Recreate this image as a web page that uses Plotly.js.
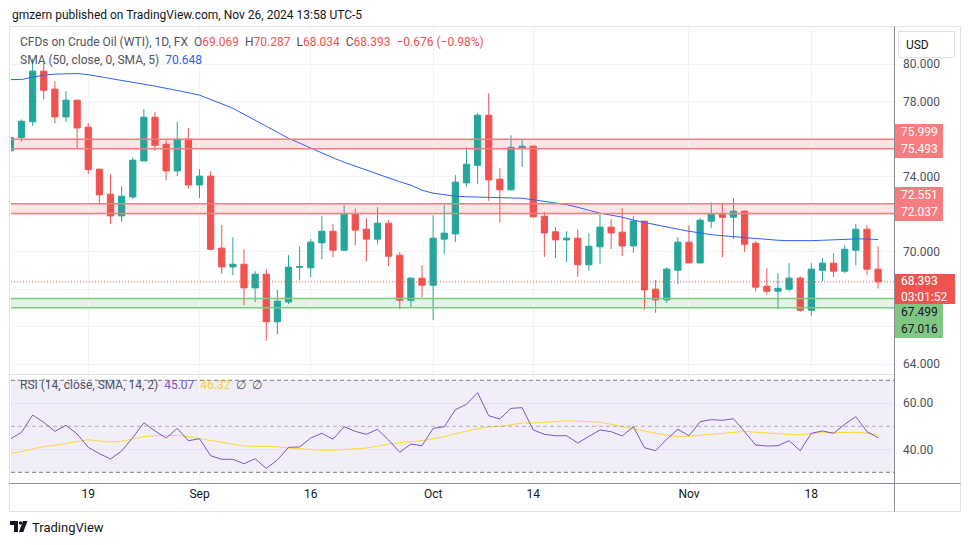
<!DOCTYPE html>
<html>
<head>
<meta charset="utf-8">
<script src="https://cdn.plot.ly/plotly-3.0.1.min.js"></script>
<style>
  html, body { margin: 0; padding: 0; background: #ffffff; }
  #grafico { width: 970px; height: 545px; }
</style>
</head>
<body>
<div id="grafico"></div>
<script>
// velas diarias (dias habiles)
let fechas = [
  '2024-08-08','2024-08-09','2024-08-12','2024-08-13','2024-08-14','2024-08-15','2024-08-16',
  '2024-08-19','2024-08-20','2024-08-21','2024-08-22','2024-08-23',
  '2024-08-26','2024-08-27','2024-08-28','2024-08-29','2024-08-30',
  '2024-09-02','2024-09-03','2024-09-04','2024-09-05','2024-09-06',
  '2024-09-09','2024-09-10','2024-09-11','2024-09-12','2024-09-13',
  '2024-09-16','2024-09-17','2024-09-18','2024-09-19','2024-09-20',
  '2024-09-23','2024-09-24','2024-09-25','2024-09-26','2024-09-27',
  '2024-09-30','2024-10-01','2024-10-02','2024-10-03','2024-10-04',
  '2024-10-07','2024-10-08','2024-10-09','2024-10-10','2024-10-11',
  '2024-10-14','2024-10-15','2024-10-16','2024-10-17','2024-10-18',
  '2024-10-21','2024-10-22','2024-10-23','2024-10-24','2024-10-25',
  '2024-10-28','2024-10-29','2024-10-30','2024-10-31','2024-11-01',
  '2024-11-04','2024-11-05','2024-11-06','2024-11-07','2024-11-08',
  '2024-11-11','2024-11-12','2024-11-13','2024-11-14','2024-11-15',
  '2024-11-18','2024-11-19','2024-11-20','2024-11-21','2024-11-22',
  '2024-11-25','2024-11-26'
];
let aperturas = [
  75.38, 76.09, 76.93, 79.63, 78.67, 77.19, 78.08,
  76.64, 74.40, 73.07, 71.91, 72.92,
  74.84, 77.17, 75.73, 74.31, 76.00,
  73.56, 74.03, 70.19, 69.19, 69.33,
  68.07, 68.80, 66.26, 67.32, 69.17,
  69.14, 70.47, 71.09, 70.08, 72.00,
  71.20, 70.67, 71.52, 69.81, 67.41,
  68.59, 68.21, 70.67, 70.95, 73.67,
  74.61, 77.28, 73.87, 73.30, 75.54,
  75.63, 71.89, 71.06, 70.63, 70.72,
  69.30, 70.26, 71.31, 71.04, 70.31,
  71.63, 68.00, 67.43, 69.01, 70.51,
  69.40, 71.63, 72.00, 71.84, 72.16,
  70.45, 68.16, 67.89, 68.00, 68.59,
  66.88, 69.01, 69.39, 68.96, 70.08,
  71.20, 69.069
];
let maximos = [
  76.48, 77.05, 80.30, 80.09, 79.09, 78.56, 78.10,
  76.85, 74.42, 74.13, 73.49, 75.02,
  77.60, 77.46, 75.98, 76.92, 76.59,
  74.40, 74.29, 71.43, 70.77, 70.13,
  68.96, 69.07, 67.95, 69.81, 70.29,
  70.67, 71.89, 71.47, 72.48, 72.30,
  71.79, 72.37, 71.68, 69.97, 68.62,
  69.28, 71.95, 72.48, 74.08, 75.57,
  77.39, 78.45, 74.45, 76.21, 76.00,
  75.65, 72.11, 71.31, 71.09, 71.20,
  70.99, 71.98, 71.73, 72.32, 71.89,
  71.65, 68.50, 69.17, 70.77, 71.41,
  71.79, 72.64, 72.59, 72.85, 72.21,
  70.56, 69.12, 68.85, 69.39, 68.69,
  69.39, 69.65, 69.92, 70.35, 71.47,
  71.41, 70.287
];
let minimos = [
  74.56, 75.86, 76.71, 78.13, 76.84, 76.92, 75.54,
  74.15, 72.53, 71.48, 71.59, 72.82,
  74.84, 75.38, 73.81, 74.04, 73.35,
  72.87, 70.08, 68.82, 68.75, 67.15,
  67.31, 65.24, 65.60, 67.20, 68.48,
  68.64, 69.60, 69.71, 70.05, 70.35,
  69.49, 70.40, 69.23, 66.93, 67.04,
  67.57, 66.35, 69.87, 70.52, 73.46,
  73.62, 72.71, 71.54, 73.28, 74.52,
  71.80, 69.72, 69.67, 69.46, 68.66,
  68.98, 69.35, 70.13, 69.78, 69.94,
  66.90, 66.74, 67.27, 68.28, 69.38,
  69.38, 71.25, 69.71, 70.67, 69.97,
  67.89, 67.73, 66.93, 67.89, 66.77,
  66.56, 68.43, 68.64, 68.85, 69.28,
  68.75, 68.034
];
let cierres = [
  76.09, 76.96, 79.63, 78.61, 77.19, 78.08, 76.60,
  74.38, 73.03, 71.91, 72.96, 74.88,
  77.17, 75.68, 74.31, 76.00, 73.56,
  74.03, 70.13, 69.19, 69.33, 68.07,
  68.80, 66.26, 67.36, 69.17, 69.20,
  70.51, 71.09, 70.08, 72.00, 71.15,
  70.67, 71.52, 69.76, 67.41, 68.59,
  68.21, 70.72, 70.99, 73.71, 74.67,
  77.28, 73.83, 73.30, 75.57, 75.63,
  71.86, 71.00, 70.63, 70.72, 69.30,
  70.29, 71.31, 71.00, 70.31, 71.63,
  67.96, 67.43, 69.07, 70.51, 69.40,
  71.68, 72.00, 71.84, 72.16, 70.40,
  68.11, 67.89, 68.05, 68.59, 66.88,
  69.07, 69.39, 68.96, 70.13, 71.20,
  69.069, 68.393
];
// SMA 50
let sma50 = [
  79.18, 79.18, 79.31, 79.41, 79.47, 79.49, 79.50,
  79.44, 79.33, 79.25, 79.15, 79.04,
  78.93, 78.83, 78.72, 78.61, 78.48,
  78.35, 78.13, 77.89, 77.65, 77.33,
  77.01, 76.69, 76.37, 76.05, 75.79,
  75.52, 75.25, 75.01, 74.77, 74.56,
  74.35, 74.13, 73.92, 73.73, 73.55,
  73.28, 73.12, 73.04, 72.96, 72.93,
  72.92, 72.91, 72.88, 72.86, 72.85,
  72.77, 72.69, 72.61, 72.51, 72.37,
  72.21, 72.05, 71.95, 71.84, 71.68,
  71.55, 71.44, 71.31, 71.20, 71.09,
  70.99, 70.91, 70.85, 70.80, 70.77,
  70.72, 70.67, 70.61, 70.59, 70.58,
  70.59, 70.61, 70.64, 70.67, 70.68,
  70.68, 70.648
];
let rsi = [
  44.48, 47.39, 54.90, 51.70, 47.80, 50.40, 46.65,
  40.87, 38.10, 35.80, 39.26, 45.04,
  51.57, 47.96, 44.90, 49.10, 43.74,
  44.60, 37.20, 35.65, 35.65, 33.75,
  35.90, 31.70, 35.35, 40.87, 41.00,
  44.90, 46.96, 44.35, 49.83, 47.80,
  46.50, 48.70, 44.04, 38.70, 42.30,
  41.57, 49.10, 49.83, 57.20, 59.57,
  64.60, 54.60, 53.17, 57.80, 58.10,
  48.40, 46.50, 45.90, 45.90, 42.74,
  45.60, 48.40, 47.65, 45.80, 49.83,
  40.70, 39.40, 44.35, 48.70, 45.90,
  52.00, 52.90, 52.60, 53.30, 47.65,
  41.87, 41.43, 41.57, 43.74, 39.40,
  46.96, 47.96, 46.96, 50.87, 54.17,
  47.65, 45.07
];
let rsiMedia = [
  38.26, 38.96, 40.13, 41.13, 41.74, 42.60, 43.48,
  44.17, 43.60, 43.17, 43.48, 44.35,
  45.50, 45.90, 46.00, 46.05, 45.50,
  44.78, 44.04, 43.04, 42.17, 41.43,
  41.30, 41.13, 41.13, 40.57, 40.13,
  39.70, 39.55, 39.55, 39.90, 40.00,
  40.57, 41.30, 42.30, 42.90, 43.30,
  43.74, 44.60, 45.50, 46.80, 47.96,
  48.96, 49.70, 50.00, 50.70, 51.43,
  51.43, 51.70, 52.17, 52.40, 52.30,
  52.00, 51.70, 50.87, 49.83, 48.96,
  47.96, 46.96, 46.09, 45.65, 45.65,
  46.09, 46.50, 46.96, 47.50, 47.80,
  47.40, 47.10, 46.80, 46.50, 46.20,
  46.80, 47.20, 47.20, 47.40, 47.40,
  46.96, 46.32
];
// zonas horizontales
let zonasBajo = [75.493, 72.037, 67.016];
let zonasAlto = [75.999, 72.551, 67.499];
// ejes (las etiquetas vacias quedan tapadas por las marcas de precio)
let precioTicks = [64, 66, 68, 70, 72, 74, 76, 78, 80];
let precioEtiquetas = ['64.000', '', '', '70.000', '', '74.000', '', '78.000', '80.000'];
let rsiTicks = [40, 60];
let rsiEtiquetas = ['40.00', '60.00'];
let rsiNiveles = [70, 50, 30];
let fechaTicks = ['2024-08-19','2024-09-02','2024-09-16','2024-10-01','2024-10-14','2024-11-01','2024-11-18'];
let fechaEtiquetas = ['19', 'Sep', '16', 'Oct', '14', 'Nov', '18'];

// pixel -> paper (area: x 11..894, y 27..483)
function px(x) { return (x - 11) / 883; }
function py(y) { return (483 - y) / 456; }

let verde = '#26a69a';
let rojo = '#ef5350';
let n = fechas.length;

let velas =
{
    x: fechas,
    open: aperturas,
    high: maximos,
    low: minimos,
    close: cierres,
    type: 'candlestick',
    xaxis: 'x',
    yaxis: 'y',
    increasing: {line: {color: verde, width: 1}, fillcolor: verde},
    decreasing: {line: {color: rojo, width: 1}, fillcolor: rojo},
    hoverinfo: 'skip'
}
let lineaSma =
{
    x: fechas,
    y: sma50,
    type: 'scatter',
    mode: 'lines',
    xaxis: 'x',
    yaxis: 'y',
    line: {color: '#2962ff', width: 1}
}
let lineaMedia =
{
    x: fechas,
    y: rsiMedia,
    type: 'scatter',
    mode: 'lines',
    xaxis: 'x',
    yaxis: 'y2',
    line: {color: '#fdd835', width: 1}
}
let lineaRsi =
{
    x: fechas,
    y: rsi,
    type: 'scatter',
    mode: 'lines',
    xaxis: 'x',
    yaxis: 'y2',
    line: {color: '#7e57c2', width: 1}
}

////////////////////////////////////////////////////////////////
let formas = [];
// fondo del RSI y niveles
formas.push({type: 'rect', xref: 'paper', yref: 'y2', x0: 0, x1: 1, y0: rsiNiveles[2], y1: rsiNiveles[0],
    fillcolor: 'rgba(126,87,194,0.1)', line: {width: 0}, layer: 'below'});
rsiNiveles.forEach(function(v, i) {
    formas.push({type: 'line', xref: 'paper', yref: 'y2', x0: 0, x1: 1, y0: v, y1: v,
        line: {color: i == 1 ? 'rgba(120,123,134,0.55)' : '#787b86', width: 1, dash: '4px,3px'}});
});
// zonas
let zonaColores = ['#f77c80', '#f77c80', '#81c784'];
let zonaRellenos = ['rgba(247,124,128,0.2)', 'rgba(247,124,128,0.2)', 'rgba(129,199,132,0.22)'];
for (let i = 0; i < zonasBajo.length; i++)
{
    formas.push({type: 'rect', xref: 'paper', yref: 'y', x0: 0, x1: 1, y0: zonasBajo[i], y1: zonasAlto[i],
        fillcolor: zonaRellenos[i], line: {width: 0}, layer: 'below'});
    [zonasBajo[i], zonasAlto[i]].forEach(function(v) {
        formas.push({type: 'line', xref: 'paper', yref: 'y', x0: 0, x1: 1, y0: v, y1: v,
            line: {color: zonaColores[i], width: 1.5}});
    });
}
// precio actual
formas.push({type: 'line', xref: 'paper', yref: 'y', x0: 0, x1: 1, y0: cierres[n - 1], y1: cierres[n - 1],
    line: {color: rojo, width: 1, dash: '1px,2px'}});
// marco, separadores y escala
formas.push({type: 'rect', xref: 'paper', yref: 'paper', x0: px(9.5), x1: px(960.5), y0: py(511.5), y1: py(26.5),
    line: {color: '#e0e3eb', width: 1}});
formas.push({type: 'line', xref: 'paper', yref: 'paper', x0: px(9.5), x1: px(894), y0: py(374.5), y1: py(374.5),
    line: {color: '#e0e3eb', width: 1}});
formas.push({type: 'line', xref: 'paper', yref: 'paper', x0: px(9.5), x1: px(960.5), y0: py(483.5), y1: py(483.5),
    line: {color: '#8a8d96', width: 1}});
formas.push({type: 'line', xref: 'paper', yref: 'paper', x0: px(894.5), x1: px(894.5), y0: py(511.5), y1: py(26.5),
    line: {color: '#8a8d96', width: 1}});
// logo
function ruta(puntos) {
    return 'M' + puntos.map(function(p) { return px(p[0]) + ',' + py(p[1]); }).join(' L') + ' Z';
}
formas.push({type: 'path', xref: 'paper', yref: 'paper', line: {width: 0}, fillcolor: '#131722',
    path: ruta([[10, 521], [18, 521], [18, 532], [14, 532], [14, 525], [10, 525]])});
formas.push({type: 'circle', xref: 'paper', yref: 'paper', line: {width: 0}, fillcolor: '#131722',
    x0: px(18.8), x1: px(22.2), y0: py(524.7), y1: py(521.3)});
formas.push({type: 'path', xref: 'paper', yref: 'paper', line: {width: 0}, fillcolor: '#131722',
    path: ruta([[23, 521], [27.5, 521], [23.3, 532], [19, 532]])});

////////////////////////////////////////////////////////////////
function tinta(t, c) { return '<span style="color:' + c + '">' + t + '</span>'; }
let esp = '\u00a0\u00a0';
let gris = '#50535e';
let cambio = cierres[n - 1] - cierres[n - 2];
let pct = cambio / cierres[n - 2] * 100;
let signo = cambio < 0 ? '\u2212' : '+';
let leyenda1 = 'CFDs on Crude Oil (WTI), 1D, FX' + esp +
    'O' + tinta(aperturas[n - 1].toFixed(3), rojo) + esp +
    'H' + tinta(maximos[n - 1].toFixed(3), rojo) + esp +
    'L' + tinta(minimos[n - 1].toFixed(3), rojo) + esp +
    'C' + tinta(cierres[n - 1].toFixed(3), rojo) + esp +
    tinta(signo + Math.abs(cambio).toFixed(3) + ' (' + signo + Math.abs(pct).toFixed(2) + '%)', rojo);
let leyenda2 = 'SMA (50, close, 0, SMA, 5)' + esp + tinta(sma50[n - 1].toFixed(3), '#2962ff');
let leyenda3 = 'RSI (14, close, SMA, 14, 2)' + esp + tinta(rsi[n - 1].toFixed(2), '#7e57c2') + esp +
    tinta(rsiMedia[n - 1].toFixed(2), '#f5d33a') + esp + '\u2205' + esp + '\u2205';

let anotaciones = [
    {xref: 'paper', yref: 'paper', x: px(10), y: py(15), xanchor: 'left', yanchor: 'middle', showarrow: false,
     text: 'gmzern published on TradingView.com, Nov 26, 2024 13:58 UTC-5', font: {size: 12, color: '#131722'}},
    {xref: 'paper', yref: 'paper', x: px(18), y: py(42), xanchor: 'left', yanchor: 'middle', showarrow: false,
     text: leyenda1, font: {size: 12, color: gris}},
    {xref: 'paper', yref: 'paper', x: px(18), y: py(60), xanchor: 'left', yanchor: 'middle', showarrow: false,
     text: leyenda2, font: {size: 12, color: gris}},
    {xref: 'paper', yref: 'paper', x: px(18), y: py(385), xanchor: 'left', yanchor: 'middle', showarrow: false,
     text: leyenda3, font: {size: 12, color: gris}},
    {xref: 'paper', yref: 'paper', x: px(30), y: py(527), xanchor: 'left', yanchor: 'middle', showarrow: false,
     text: 'TradingView', font: {size: 13, color: '#131722'}},
    {xref: 'paper', yref: 'paper', x: px(897.5), y: py(31), xanchor: 'left', yanchor: 'top', showarrow: false,
     text: '\u00a0\u00a0USD', width: 53, height: 23, align: 'left', bgcolor: '#ffffff', bordercolor: '#e0e3eb',
     borderwidth: 1, borderpad: 1, font: {size: 12, color: '#131722'}}
];
// etiquetas de la escala (desplazadas como en TradingView)
let etiquetas = [
    {v: zonasAlto[0], dy: 6.5, bg: '#f77c80', c: '#ffffff'},
    {v: zonasBajo[0], dy: -0.7, bg: '#f77c80', c: '#ffffff'},
    {v: zonasAlto[1], dy: 7.9, bg: '#f77c80', c: '#ffffff'},
    {v: zonasBajo[1], dy: 0.8, bg: '#f77c80', c: '#ffffff'},
    {v: zonasAlto[2], dy: -14.2, bg: '#81c784', c: '#131722'},
    {v: zonasBajo[2], dy: -22.2, bg: '#81c784', c: '#131722'}
];
etiquetas.forEach(function(e) {
    anotaciones.push({xref: 'paper', yref: 'y', x: 1, y: e.v, xanchor: 'left', yanchor: 'middle', xshift: 1,
        yshift: e.dy, showarrow: false, text: '\u00a0\u00a0' + e.v.toFixed(3), width: 48, height: 16.6,
        borderpad: 0, borderwidth: 0, align: 'left', bgcolor: e.bg, font: {size: 12, color: e.c}});
});
anotaciones.push({xref: 'paper', yref: 'y', x: 1, y: cierres[n - 1], xanchor: 'left', yanchor: 'middle', xshift: 1,
    yshift: -7.5, showarrow: false, text: '\u00a0\u00a0' + cierres[n - 1].toFixed(3) + '<br>\u00a0\u00a003:01:52',
    width: 60, height: 29.6, borderpad: 0, borderwidth: 0, align: 'left', bgcolor: rojo,
    font: {size: 12, color: '#ffffff'}});

////////////////////////////////////////////////////////////////
let layout1 =
{
    width: 970,
    height: 545,
    margin: {l: 11, r: 76, t: 27, b: 62},
    paper_bgcolor: '#ffffff',
    plot_bgcolor: '#ffffff',
    showlegend: false,
    hovermode: false,
    dragmode: false,
    boxgap: 0.2,
    font: {family: 'Roboto, "Liberation Sans", sans-serif', size: 12, color: '#131722'},
    xaxis: {
        type: 'category',
        anchor: 'y2',
        range: [0.054, 79.43],
        rangeslider: {visible: false},
        tickvals: fechaTicks,
        ticktext: fechaEtiquetas,
        ticks: '',
        ticklabelstandoff: 2,
        showgrid: true,
        gridcolor: '#f0f3fa',
        showline: false,
        zeroline: false,
        tickfont: {size: 12, color: '#131722'}
    },
    yaxis: {
        domain: [py(374), 1],
        range: [63.477, 81.984],
        side: 'right',
        anchor: 'x',
        tickvals: precioTicks,
        ticktext: precioEtiquetas,
        ticks: '',
        ticklabelstandoff: 8,
        showgrid: true,
        gridcolor: '#f0f3fa',
        zeroline: false,
        showline: false,
        tickfont: {size: 12, color: '#4c525e'}
    },
    yaxis2: {
        domain: [0, py(375)],
        range: [25.35, 72.3],
        side: 'right',
        anchor: 'x',
        tickvals: rsiTicks,
        ticktext: rsiEtiquetas,
        ticks: '',
        ticklabelstandoff: 8,
        showgrid: true,
        gridcolor: '#e6e1f3',
        zeroline: false,
        showline: false,
        tickfont: {size: 12, color: '#4c525e'}
    },
    shapes: formas,
    annotations: anotaciones
}
let contenedor = document.getElementById('grafico');
Plotly.newPlot(contenedor, [velas, lineaSma, lineaMedia, lineaRsi], layout1, {staticPlot: true, displayModeBar: false});
</script>
</body>
</html>
